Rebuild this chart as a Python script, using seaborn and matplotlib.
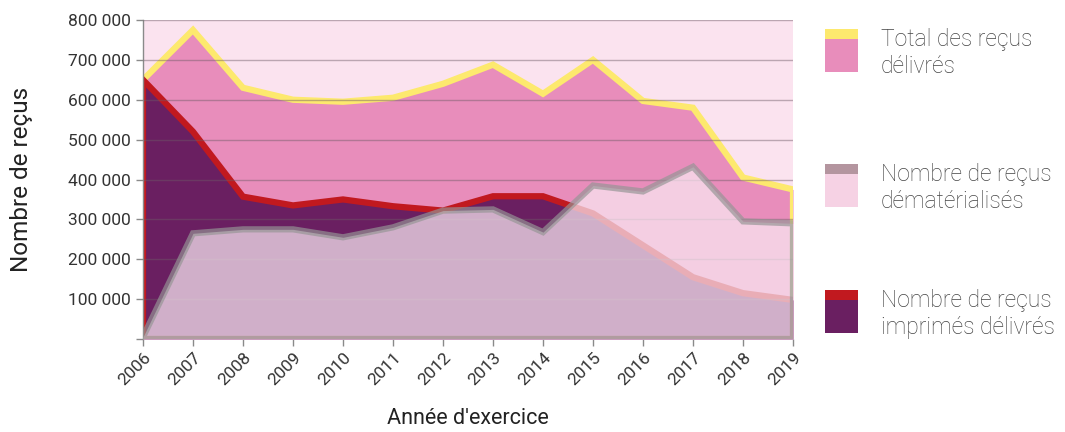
import matplotlib
matplotlib.use('Agg')
import matplotlib.pyplot as plt
from matplotlib.patches import Rectangle
from matplotlib.ticker import FuncFormatter
import seaborn as sns

years = list(range(2006, 2020))
total = [650000, 775000, 630000, 600000, 595000, 605000, 640000, 688000, 615000, 700000, 597000, 580000, 405000, 375000]
imprimes = [650000, 520000, 357000, 335000, 350000, 333000, 322000, 358000, 358000, 315000, 235000, 155000, 115000, 98000]
demat = [5000, 265000, 275000, 275000, 255000, 280000, 322000, 325000, 268000, 385000, 370000, 432000, 295000, 290000]

legend_labels = ['Total des reçus\ndélivrés', 'Nombre de reçus\ndématérialisés', 'Nombre de reçus\nimprimés délivrés']

sns.set_theme(style='white')
plt.rcParams['font.family'] = ['Roboto', 'DejaVu Sans']

fig = plt.figure(figsize=(10.65, 4.32), dpi=100)
ax = fig.add_axes([143/1065, 1-339/432, 650/1065, 319/432])
ax.set_facecolor('#fbe3ef')


def outline(vals):
    # closed polygon : baseline -> values -> baseline
    xs = [years[0]] + years + [years[-1], years[0]]
    ys = [0] + vals + [0, 0]
    return xs, ys


# total
ax.fill_between(years, 0, total, color='#e88dbb', linewidth=0, zorder=1)
xs, ys = outline(total)
sns.lineplot(x=xs, y=ys, sort=False, estimator=None, color='#fde96e', linewidth=4.5, ax=ax, zorder=1.2)

ax.yaxis.grid(True, color='#6e5a66', alpha=0.45, linewidth=1)
ax.set_axisbelow(False)
for g in ax.get_ygridlines():
    g.set_zorder(1.5)

# imprimes
ax.fill_between(years, 0, imprimes, color='#6a1f61', linewidth=0, zorder=2)
xs, ys = outline(imprimes)
sns.lineplot(x=xs, y=ys, sort=False, estimator=None, color='#c1191f', linewidth=4.5, ax=ax, zorder=2.2)

# dematerialises
ax.fill_between(years, 0, demat, color='#f9e8f2', alpha=0.72, linewidth=0, zorder=3)
xs, ys = outline(demat)
sns.lineplot(x=xs, y=ys, sort=False, estimator=None, color='#959595', alpha=0.68, linewidth=4.5, ax=ax, zorder=3.2)
for l in ax.lines:
    l.set_solid_joinstyle('miter')

ax.set_xlim(2006, 2019)
ax.set_ylim(0, 800000)
ax.set_yticks(range(0, 800001, 100000))
ax.yaxis.set_major_formatter(FuncFormatter(lambda v, p: '' if v == 0 else f'{int(v):,}'.replace(',', ' ')))
ax.set_xticks(years)
ax.set_xticklabels([str(y) for y in years], rotation=45, ha='right', rotation_mode='anchor')

for s in ['top', 'right', 'bottom']:
    ax.spines[s].set_visible(False)
ax.spines['left'].set_color('#8a8a8a')
ax.spines['left'].set_linewidth(1)
ax.tick_params(axis='both', color='#8a8a8a', length=5, width=1, labelsize=12.5, labelcolor='#333333')
ax.tick_params(axis='x', direction='out', bottom=True, pad=3)
ax.tick_params(axis='y', direction='out', left=True, pad=4)
for t in ax.get_xticklabels() + ax.get_yticklabels():
    t.set_color('#333333')

ax.set_xlabel("Année d'exercice", fontsize=15.5, color='#222222', labelpad=14)
ax.set_ylabel('Nombre de reçus', fontsize=17.5, color='#222222', labelpad=25)

# legende
W, H = 1065, 432
sw = [('#fde96e', '#e88dbb', 29), ('#b4959f', '#f6d2e4', 164), ('#c1191f', '#6a1f61', 290)]
for (top_c, body_c, y0), lab in zip(sw, legend_labels):
    fig.add_artist(Rectangle((825/W, 1-(y0+10)/H), 33/W, 10/H, color=top_c, transform=fig.transFigure, lw=0))
    fig.add_artist(Rectangle((825/W, 1-(y0+43)/H), 33/W, 33/H, color=body_c, transform=fig.transFigure, lw=0))
    fig.text(881/W, 1-(y0+24)/H, lab, fontsize=16.5, color='#444444', va='center', ha='left',
             linespacing=1.2, fontweight='light')

fig.savefig('out.png', dpi=100, facecolor='white')
